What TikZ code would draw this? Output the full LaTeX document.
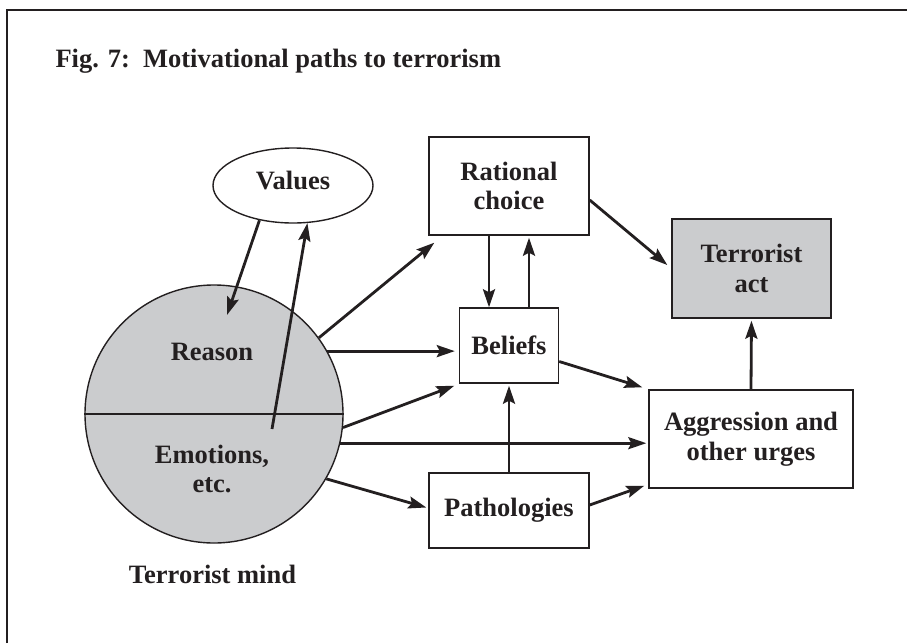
\documentclass[tikz,border=0pt]{standalone}
\usepackage{fontspec}
\setmainfont{Liberation Serif}
\usetikzlibrary{arrows.meta,shapes.geometric}
\definecolor{ink}{HTML}{231F20}
\definecolor{shade}{HTML}{CBCCCE}
\begin{document}
\begin{tikzpicture}[x=1pt,y=-1pt,
  every node/.style={font=\fontsize{26.5}{29.5}\selectfont\bfseries, text=ink},
  box/.style={draw=ink, line width=1.4pt, inner sep=0pt, align=center},
  arr/.style={draw=ink, line width=2.8pt, -{Stealth[length=18pt,width=12pt,inset=3pt]}}
]
\useasboundingbox (0,0) rectangle (907,643);
\draw[ink, line width=1.5pt] (7,643) -- (7,10) -- (907,10);

\node[anchor=base west] (title) at (52,67) {Fig. 7:\enspace Motivational paths to terrorism};

% terrorist mind
\node[circle, draw=ink, fill=shade, line width=1.4pt, minimum size=258pt, inner sep=0pt] (mind) at (214,414) {};
\draw[ink, line width=2.2pt] (mind.west) -- (mind.east);
\node[anchor=base] (reason) at (212,360) {Reason};
\node[anchor=base] (emo) at (212,463) {Emotions,};
\node[anchor=base] (etc) at (212,492) {etc.};
\node[anchor=base] (mindlabel) at (212.5,583) {Terrorist mind};

\node[ellipse, draw=ink, line width=1.4pt, minimum width=160pt, minimum height=75pt, inner sep=0pt, text depth=10pt] (values) at (293,185.5) {Values};

\node[box, minimum width=160pt, minimum height=98pt] (rc) at (509,186) {Rational\\choice};
\node[box, minimum width=99pt, minimum height=75pt] (bel) at (509,345.5) {Beliefs};
\node[box, minimum width=160pt, minimum height=75pt] (patho) at (509,510.5) {Pathologies};
\node[box, fill=shade, minimum width=159pt, minimum height=99pt] (ta) at (751.5,268.5) {Terrorist\\act};
\node[box, minimum width=204pt, minimum height=98pt] (agg) at (751,439) {Aggression and\\other urges};

% connectors
\coordinate (vtip) at (227,315);
\coordinate (etail) at (272,429);
\draw[arr] (values.226) -- (vtip);
\draw[arr] (etail) -- (values.291);

\draw[arr] (mind.36) -- ([shift={(6,7)}]rc.south west);
\draw[arr, shorten >=4pt] (mind.29) -- (mind.29 -| bel.west);
\draw[arr] (mind.-6) -- ([shift={(-4.5,2)}]bel.south west);
\draw[arr, shorten >=2pt] (mind.-13) -- (mind.-13 -| agg.west);
\draw[arr] (mind.-30) -- ([shift={(-2,-3)}]patho.west);

\draw[arr] ([xshift=-20pt]rc.south) -- ([xshift=-20pt]bel.north);
\draw[arr, shorten >=2pt] ([xshift=20pt]bel.north) -- ([xshift=20pt]rc.south);
\draw[arr, shorten >=2pt] (patho.north) -- (bel.south);

\draw[arr] ([yshift=-14pt]rc.east) -- ([shift={(-4,-3.5)}]ta.west);
\draw[arr] ([yshift=-16pt]bel.east) -- ([shift={(-6,-2)}]agg.north west);
\draw[arr] ([yshift=5.5pt]patho.east) -- ([shift={(-4,-3)}]agg.south west);
\draw[arr, shorten >=2pt] (agg.north) -- (ta.south);
\end{tikzpicture}
\end{document}
